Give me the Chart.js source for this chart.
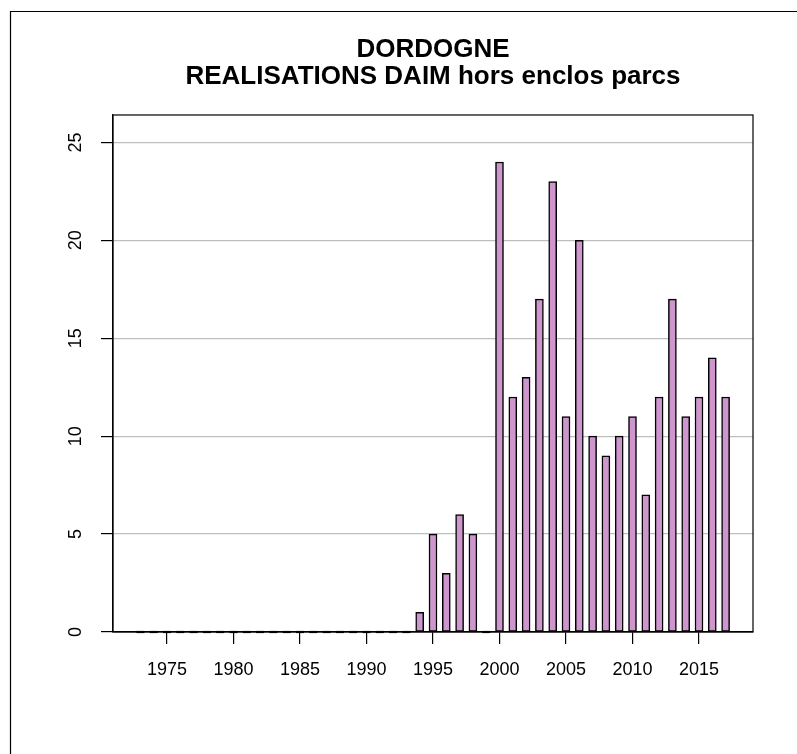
<!DOCTYPE html>
<html>
<head>
<meta charset="utf-8">
<script src="https://cdn.jsdelivr.net/npm/chart.js@4"></script>
<style>
  body { margin: 0; background: #fff; }
  #wrap { width: 797px; height: 754px; }
</style>
</head>
<body>
<div id="wrap"><canvas id="chart-1"></canvas></div>
<script>
var annees = [1973, 1974, 1975, 1976, 1977, 1978, 1979, 1980, 1981, 1982,
              1983, 1984, 1985, 1986, 1987, 1988, 1989, 1990, 1991, 1992,
              1993, 1994, 1995, 1996, 1997, 1998, 1999, 2000, 2001, 2002,
              2003, 2004, 2005, 2006, 2007, 2008, 2009, 2010, 2011, 2012,
              2013, 2014, 2015, 2016, 2017];
var realisations = [0, 0, 0, 0, 0, 0, 0, 0, 0, 0,
                    0, 0, 0, 0, 0, 0, 0, 0, 0, 0,
                    0, 1, 5, 3, 6, 5, 0, 24, 12, 13,
                    17, 23, 11, 20, 10, 9, 10, 11, 7, 12,
                    17, 11, 12, 14, 12];
var xTicks = [1975, 1980, 1985, 1990, 1995, 2000, 2005, 2010, 2015];
var yTicks = [0, 5, 10, 15, 20, 25];
var titre = ['DORDOGNE', 'REALISATIONS DAIM hors enclos parcs'];

var police = 'Liberation Sans, Arial, Helvetica, sans-serif';

var points = [];
for (var i in annees) {
    points.push({x: annees[i], y: realisations[i]});
}

// cadre du graphique + bord exterieur
var cadre = {
    id: 'cadre',
    afterDraw: function(chart) {
        var ctx = chart.ctx, a = chart.chartArea;
        ctx.save();
        ctx.strokeStyle = '#000';
        ctx.lineWidth = 1.2;
        ctx.strokeRect(a.left, a.top, a.right - a.left, a.bottom - a.top);
        ctx.beginPath();
        ctx.moveTo(10.5, 754);
        ctx.lineTo(10.5, 11.5);
        ctx.lineTo(797, 11.5);
        ctx.stroke();
        ctx.restore();
    }
};

// barres a zero : petit trait sur l'axe
var zeros = {
    id: 'zeros',
    afterDatasetsDraw: function(chart) {
        var ctx = chart.ctx;
        var meta = chart.getDatasetMeta(0);
        ctx.save();
        ctx.strokeStyle = '#000';
        ctx.lineWidth = 2.2;
        meta.data.forEach(function(bar, i) {
            if (realisations[i] === 0) {
                ctx.beginPath();
                ctx.moveTo(bar.x - bar.width / 2, bar.y);
                ctx.lineTo(bar.x + bar.width / 2, bar.y);
                ctx.stroke();
            }
        });
        ctx.restore();
    }
};

// etiquettes de l'axe y tournees
var etiquettesY = {
    id: 'etiquettesY',
    afterDraw: function(chart) {
        var ctx = chart.ctx, sy = chart.scales.y;
        ctx.save();
        ctx.fillStyle = '#000';
        ctx.font = '18px ' + police;
        ctx.textAlign = 'center';
        ctx.textBaseline = 'middle';
        yTicks.forEach(function(v) {
            ctx.save();
            ctx.translate(76, sy.getPixelForValue(v));
            ctx.rotate(-Math.PI / 2);
            ctx.fillText(String(v), 0, 0);
            ctx.restore();
        });
        ctx.restore();
    }
};

var ctx1 = document.getElementById('chart-1');

var chart1 = new Chart(ctx1, {
    type: 'bar',
    data: {
        datasets: [{
            label: 'Realisations',
            data: points,
            backgroundColor: '#CD96CD',
            borderColor: '#000',
            borderWidth: 1.5,
            borderSkipped: false,
            barThickness: 8
        }]
    },
    options: {
        responsive: true,
        maintainAspectRatio: false,
        animation: false,
        layout: { padding: { top: 20, left: 0, right: 44, bottom: 0 } },
        plugins: {
            legend: { display: false },
            tooltip: { enabled: false },
            title: {
                display: true,
                text: titre,
                fullSize: false,
                color: '#000',
                font: { family: police, size: 26, weight: 'bold', lineHeight: 1.04 },
                padding: { top: 16.5, bottom: 24.4 }
            }
        },
        scales: {
            x: {
                type: 'linear',
                min: 1970.94,
                max: 2019.06,
                offset: false,
                afterBuildTicks: function(scale) {
                    scale.ticks = xTicks.map(function(v) { return {value: v}; });
                },
                afterFit: function(scale) { scale.height = 122; },
                grid: {
                    offset: false,
                    drawOnChartArea: false,
                    tickLength: 12,
                    tickColor: '#000',
                    lineWidth: 1.2
                },
                border: { color: '#000', width: 1.2 },
                ticks: {
                    color: '#000',
                    font: { family: police, size: 18 },
                    padding: 15,
                    maxRotation: 0,
                    callback: function(v) { return String(v); }
                }
            },
            y: {
                min: 0,
                max: 26.4,
                afterBuildTicks: function(scale) {
                    scale.ticks = yTicks.map(function(v) { return {value: v}; });
                },
                afterFit: function(scale) { scale.width = 113; },
                grid: {
                    color: '#BEBEBE',
                    lineWidth: 1.2,
                    tickLength: 12,
                    tickColor: '#000'
                },
                border: { color: '#000', width: 1.2 },
                ticks: { display: false }
            }
        }
    },
    plugins: [cadre, zeros, etiquettesY]
});
</script>
</body>
</html>
